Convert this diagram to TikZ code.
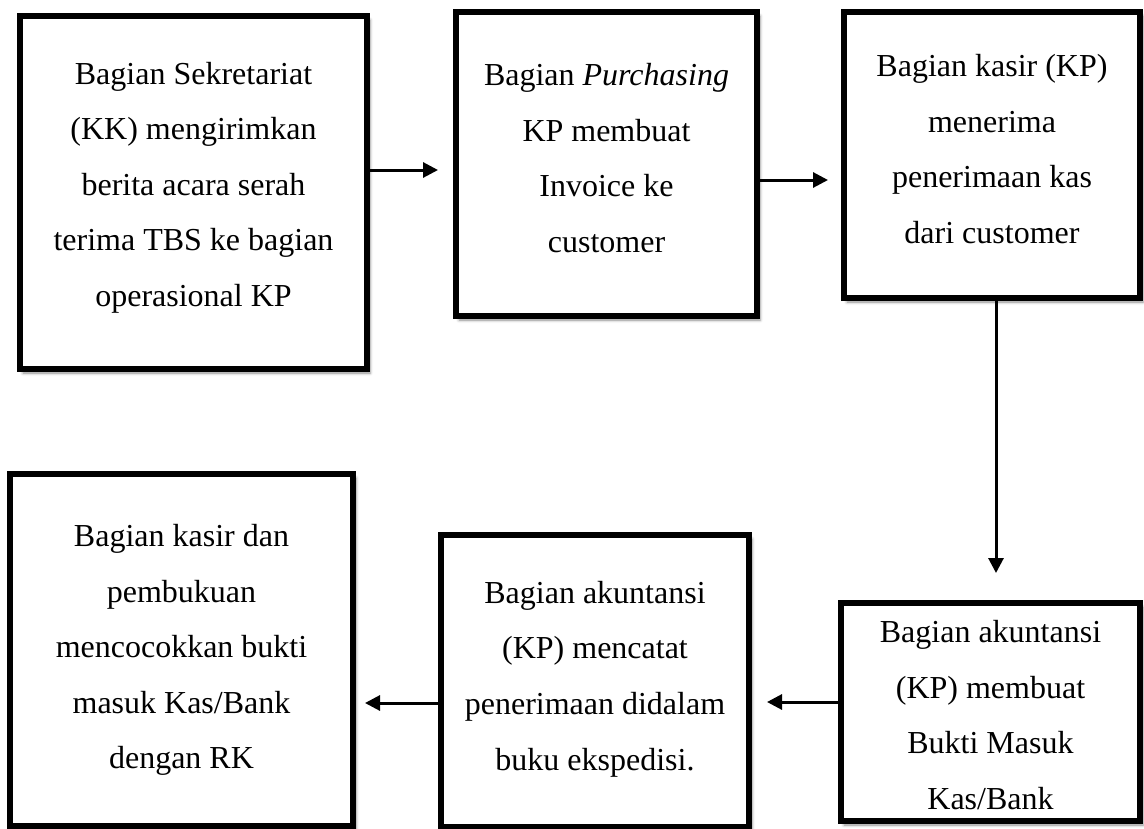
\documentclass[tikz,border=0pt]{standalone}
\usepackage{fontspec}
\setmainfont{Liberation Serif}
\usetikzlibrary{arrows.meta,shadows.blur}
\tikzset{
  box/.style={draw=black, line width=6pt, fill=white, inner sep=0pt},
  boxshadow/.style={blur shadow={shadow xshift=3pt, shadow yshift=-4pt, shadow blur radius=3pt, shadow opacity=45}},
  lbl/.style={align=center, inner sep=0pt, font=\fontsize{32}{55.6}\selectfont},
  arr/.style={line width=3pt, -{Triangle[length=15pt,width=15pt]}}
}
\begin{document}
\begin{tikzpicture}[x=1pt,y=-1pt]
\useasboundingbox (0,0) rectangle (1144,828);
\node[box, boxshadow, minimum width=347pt, minimum height=353pt,
  label={[lbl, name=t1, yshift=5pt]center:{Bagian Sekretariat\\(KK) mengirimkan\\berita acara serah\\terima TBS ke bagian\\operasional KP}}] (b1) at (193.5,192.5) {};
\node[box, boxshadow, minimum width=301pt, minimum height=304pt,
  label={[lbl, name=t2, yshift=6pt]center:{Bagian \textit{Purchasing}\\KP membuat\\Invoice ke\\customer}}] (b2) at (606.5,164) {};
\node[box, boxshadow, minimum width=296pt, minimum height=286pt,
  label={[lbl, name=t3, yshift=6pt]center:{Bagian kasir (KP)\\menerima\\penerimaan kas\\dari customer}}] (b3) at (992,155) {};
\node[box, boxshadow, minimum width=299pt, minimum height=218pt,
  label={[lbl, name=t4, yshift=-3pt]center:{Bagian akuntansi\\(KP) membuat\\Bukti Masuk\\Kas/Bank}}] (b4) at (990.5,712) {};
\node[box, boxshadow, minimum width=308pt, minimum height=292pt,
  label={[lbl, name=t5, yshift=2pt]center:{Bagian akuntansi\\(KP) mencatat\\penerimaan didalam\\buku ekspedisi.}}] (b5) at (595,681) {};
\node[box, boxshadow, minimum width=343pt, minimum height=352pt,
  label={[lbl, name=t6]center:{Bagian kasir dan\\pembukuan\\mencocokkan bukti\\masuk Kas/Bank\\dengan RK}}] (b6) at (181.5,650) {};
\coordinate (c1) at (438,170);
\coordinate (c2) at (828,180);
\coordinate (c3) at (996,573);
\coordinate (c4) at (767,702);
\coordinate (c5) at (365,703);
\draw[arr] (c1 -| b1.east) -- (c1);
\draw[arr] (c2 -| b2.east) -- (c2);
\draw[arr] (c3 |- b3.south) -- (c3);
\draw[arr] (c4 -| b4.west) -- (c4);
\draw[arr] (c5 -| b5.west) -- (c5);
\end{tikzpicture}
\end{document}
